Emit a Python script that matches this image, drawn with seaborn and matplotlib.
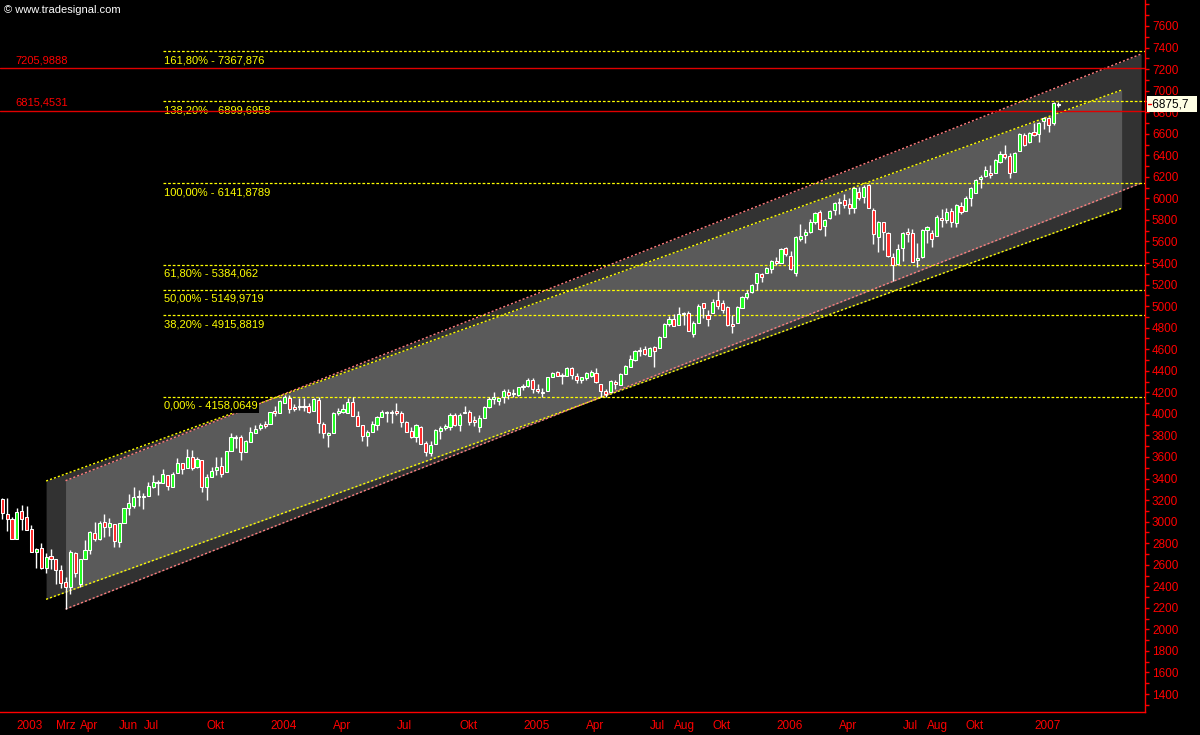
import numpy as np
import matplotlib
matplotlib.use("Agg")
import matplotlib.pyplot as plt
import matplotlib.transforms as mtransforms
import seaborn as sns

# weekly candles Dec 2002 - Feb 2007
opens = [3210, 3071, 3024, 2836, 3099, 3040, 2929, 2715, 2755, 2567,
         2681, 2650, 2551, 2437, 2396, 2710, 2421, 2650, 2737, 2892,
         2836, 2994, 2954, 2976, 2814, 2985, 3124, 3148, 3229, 3232,
         3241, 3325, 3360, 3356, 3432, 3324, 3448, 3541, 3495, 3603,
         3510, 3572, 3318, 3411, 3479, 3516, 3458, 3656, 3778, 3787,
         3645, 3743, 3826, 3867, 3907, 3904, 4025, 4010, 4100, 4146,
         4063, 4063, 4063, 4075, 4025, 4127, 3904, 3805, 3826, 4010,
         4013, 4010, 4109, 3979, 3897, 3795, 3835, 3897, 3969, 4010,
         4010, 4025, 4004, 3923, 3845, 3787, 3882, 3728, 3640, 3718,
         3845, 3866, 3882, 3994, 3897, 4010, 4013, 3941, 3880, 3964,
         4063, 4137, 4118, 4161, 4199, 4180, 4177, 4248, 4260, 4315,
         4230, 4202, 4208, 4341, 4393, 4362, 4353, 4424, 4353, 4315,
         4331, 4347, 4383, 4273, 4217, 4199, 4299, 4268, 4370, 4433,
         4500, 4594, 4603, 4537, 4623, 4609, 4711, 4834, 4878, 4825,
         4927, 4933, 4741, 4846, 5026, 4918, 4933, 5057, 5026, 4989,
         4834, 4846, 4980, 5082, 5134, 5212, 5298, 5310, 5342, 5422,
         5403, 5537, 5465, 5305, 5621, 5661, 5692, 5785, 5877, 5745,
         5815, 5892, 5954, 5985, 5948, 5908, 6062, 6010, 6124, 5892,
         5645, 5778, 5676, 5459, 5391, 5537, 5692, 5682, 5428, 5453,
         5707, 5682, 5652, 5815, 5800, 5886, 5775, 5929, 5886, 6001,
         6047, 6177, 6208, 6233, 6238, 6341, 6412, 6394, 6248, 6443,
         6588, 6526, 6619, 6598, 6721, 6743, 6697, 6870]
highs = [3220, 3219, 3043, 3124, 3154, 3145, 2966, 2758, 2802, 2706,
         2746, 2650, 2597, 2489, 2737, 2715, 2650, 2829, 2913, 2997,
         3006, 3071, 3031, 2976, 2990, 3124, 3256, 3319, 3294, 3269,
         3368, 3430, 3386, 3485, 3432, 3463, 3588, 3541, 3672, 3665,
         3597, 3572, 3442, 3504, 3603, 3597, 3656, 3821, 3804, 3804,
         3760, 3882, 3897, 3913, 3938, 4019, 4072, 4127, 4177, 4177,
         4093, 4146, 4146, 4100, 4146, 4161, 3928, 3835, 4019, 4053,
         4093, 4146, 4156, 4025, 3897, 3851, 3938, 3979, 4037, 4025,
         4037, 4100, 4025, 3932, 3880, 3907, 3888, 3752, 3752, 3858,
         3888, 3907, 4004, 4004, 4004, 4075, 4032, 3985, 3994, 4075,
         4161, 4199, 4152, 4230, 4230, 4230, 4248, 4273, 4331, 4331,
         4273, 4239, 4341, 4393, 4402, 4378, 4433, 4433, 4378, 4341,
         4393, 4409, 4424, 4273, 4230, 4315, 4315, 4377, 4456, 4546,
         4594, 4623, 4633, 4623, 4630, 4723, 4841, 4908, 4927, 4989,
         4948, 4957, 4865, 5020, 5032, 4964, 5063, 5143, 5057, 5001,
         4918, 5001, 5094, 5150, 5205, 5310, 5310, 5366, 5428, 5459,
         5537, 5552, 5515, 5652, 5762, 5714, 5806, 5877, 5892, 5806,
         5892, 5969, 6001, 6041, 6001, 6103, 6109, 6124, 6134, 5908,
         5794, 5785, 5692, 5496, 5577, 5692, 5723, 5714, 5583, 5714,
         5744, 5707, 5846, 5899, 5908, 5908, 5948, 5969, 6022, 6109,
         6177, 6217, 6301, 6310, 6362, 6443, 6496, 6424, 6433, 6604,
         6604, 6619, 6702, 6712, 6758, 6758, 6898, 6898]
lows = [3025, 2913, 2836, 2836, 2922, 2920, 2715, 2567, 2558, 2526,
        2563, 2421, 2387, 2189, 2326, 2484, 2396, 2650, 2697, 2823,
        2829, 2861, 2868, 2768, 2768, 2985, 3062, 3124, 3145, 3114,
        3241, 3309, 3247, 3356, 3293, 3324, 3448, 3442, 3495, 3479,
        3495, 3278, 3201, 3411, 3432, 3416, 3458, 3656, 3681, 3572,
        3645, 3743, 3826, 3851, 3867, 3904, 3985, 4010, 4100, 4010,
        4031, 4037, 4031, 4010, 4025, 3821, 3774, 3690, 3826, 3994,
        4010, 4010, 3985, 3892, 3752, 3706, 3835, 3851, 3969, 3923,
        3913, 3994, 3880, 3835, 3774, 3743, 3721, 3609, 3609, 3718,
        3765, 3851, 3851, 3888, 3845, 4004, 3897, 3888, 3835, 3964,
        4053, 4093, 4084, 4100, 4134, 4161, 4168, 4220, 4248, 4193,
        4193, 4161, 4208, 4341, 4353, 4273, 4353, 4322, 4285, 4285,
        4315, 4341, 4290, 4161, 4161, 4199, 4230, 4268, 4370, 4433,
        4494, 4537, 4546, 4537, 4438, 4609, 4711, 4816, 4818, 4825,
        4825, 4772, 4716, 4846, 4887, 4816, 4933, 4971, 4933, 4816,
        4754, 4846, 4980, 5063, 5119, 5150, 5227, 5310, 5310, 5382,
        5403, 5465, 5336, 5279, 5607, 5590, 5683, 5762, 5708, 5652,
        5806, 5850, 5855, 5908, 5855, 5862, 5985, 5954, 5908, 5577,
        5505, 5521, 5459, 5236, 5382, 5422, 5598, 5412, 5360, 5444,
        5583, 5552, 5652, 5738, 5769, 5738, 5738, 5855, 5886, 5929,
        6047, 6094, 6201, 6186, 6238, 6331, 6362, 6186, 6248, 6443,
        6486, 6517, 6579, 6526, 6642, 6619, 6681, 6851]
closes = [3080, 3024, 2836, 3087, 3027, 2920, 2715, 2746, 2567, 2672,
          2650, 2548, 2428, 2396, 2715, 2521, 2650, 2734, 2901, 2836,
          2985, 2954, 2985, 2821, 2985, 3124, 3170, 3231, 3238, 3236,
          3331, 3365, 3366, 3439, 3330, 3439, 3541, 3485, 3603, 3495,
          3579, 3318, 3416, 3470, 3510, 3442, 3656, 3784, 3784, 3648,
          3750, 3835, 3858, 3897, 3891, 4019, 4010, 4118, 4161, 4044,
          4044, 4069, 4075, 4019, 4134, 3913, 3821, 3826, 4010, 4025,
          4044, 4109, 3985, 3892, 3795, 3835, 3907, 3969, 4019, 4014,
          4019, 4004, 3923, 3835, 3787, 3897, 3721, 3648, 3711, 3851,
          3867, 3885, 3994, 3897, 3994, 4020, 3923, 3923, 3964, 4063,
          4137, 4161, 4146, 4217, 4177, 4192, 4248, 4260, 4315, 4230,
          4208, 4193, 4341, 4383, 4353, 4353, 4424, 4362, 4315, 4341,
          4378, 4393, 4299, 4217, 4186, 4308, 4273, 4370, 4447, 4507,
          4584, 4584, 4556, 4615, 4587, 4716, 4832, 4878, 4818, 4927,
          4936, 4772, 4841, 5001, 4980, 4878, 5041, 5001, 4964, 4825,
          4816, 4989, 5082, 5119, 5196, 5305, 5273, 5351, 5419, 5403,
          5528, 5485, 5342, 5639, 5652, 5692, 5785, 5862, 5714, 5800,
          5883, 5954, 5969, 5939, 5908, 6094, 6001, 6109, 5908, 5670,
          5785, 5692, 5465, 5382, 5528, 5682, 5670, 5412, 5444, 5707,
          5732, 5620, 5825, 5800, 5877, 5785, 5939, 5877, 6001, 6094,
          6171, 6201, 6264, 6217, 6356, 6412, 6387, 6233, 6424, 6595,
          6496, 6604, 6588, 6702, 6743, 6681, 6883, 6875.7]
last_label = "6875,7"

# month ticks (bar index) on the time axis
month_ticks = [0, 3, 7, 11, 16, 20, 24, 29, 33, 38, 42, 46, 51, 55, 59, 64, 68,
               72, 77, 81, 85, 90, 94, 99, 103, 107, 112, 116, 120, 124, 129,
               133, 138, 142, 146, 151, 155, 159, 164, 168, 172, 177, 181, 185,
               190, 194, 198, 203, 207, 212, 216]
month_labels = ["", "2003", "", "Mrz", "Apr", "", "Jun", "Jul", "", "", "Okt",
                "", "", "2004", "", "", "Apr", "", "", "Jul", "", "", "Okt",
                "", "", "2005", "", "", "Apr", "", "", "Jul", "Aug", "", "Okt",
                "", "", "2006", "", "", "Apr", "", "", "Jul", "Aug", "", "Okt",
                "", "", "2007", ""]

# fibonacci extension levels
fib_pcts = ["161,80%", "138,20%", "100,00%", "61,80%", "50,00%", "38,20%", "0,00%"]
fib_values = [7367.876, 6899.6958, 6141.8789, 5384.062, 5149.9719, 4915.8819, 4158.0649]
fib_texts = ["7367,876", "6899,6958", "6141,8789", "5384,062", "5149,9719", "4915,8819", "4158,0649"]
fib_start = 33

# horizontal red levels
red_values = [7205.9888, 6815.4531]
red_texts = ["7205,9888", "6815,4531"]

# two trend channels (start/end bar, upper and lower line)
chan_a_x = [9, 230]
chan_a_top = [3377, 7006]
chan_a_bot = [2279, 5908]
chan_b_x = [13, 234]
chan_b_top = [3380, 7340]
chan_b_bot = [2188, 6142]

sns.set_style("dark", {"axes.facecolor": "black", "figure.facecolor": "black"})
plt.rcParams["font.family"] = ["Liberation Sans", "DejaVu Sans"]

fig = plt.figure(figsize=(12, 7.35), dpi=100, facecolor="black")
ax = fig.add_axes([0, 23 / 735, 1145 / 1200, 712 / 735])
ax.set_facecolor("black")
ax.grid(False)

# channel fills (overlap gets lighter)
ax.fill_between(chan_a_x, chan_a_bot, chan_a_top, color="white", alpha=0.2, lw=0, zorder=1)
ax.fill_between(chan_b_x, chan_b_bot, chan_b_top, color="white", alpha=0.2, lw=0, zorder=1)

yellow = "#ffff00"
pink = "#ff7f7f"
for xs, ys in [(chan_a_x, chan_a_top), (chan_a_x, chan_a_bot)]:
    sns.lineplot(x=xs, y=ys, ax=ax, color=yellow, lw=1, linestyle=(0, (1.5, 1.5)), zorder=2)
for xs, ys in [(chan_b_x, chan_b_top), (chan_b_x, chan_b_bot)]:
    sns.lineplot(x=xs, y=ys, ax=ax, color=pink, lw=1, linestyle=(0, (1.5, 1.5)), zorder=2)

xmax = 234.8
ax.hlines(fib_values, fib_start, xmax, colors=yellow, lw=0.9,
          linestyles=[(0, (2.2, 1.5))], zorder=2)
below = mtransforms.offset_copy(ax.transData, fig=fig, x=1, y=-4, units="dots")
for pct, txt, v in zip(fib_pcts, fib_texts, fib_values):
    ax.text(fib_start, v, f"{pct} - {txt}", transform=below, color=yellow,
            fontsize=8, va="top", ha="left", zorder=3,
            bbox=dict(boxstyle="square,pad=0.15", fc="black", ec="none"))

# red horizontal levels
lvl_trans = mtransforms.blended_transform_factory(ax.transAxes, ax.transData)
above = mtransforms.offset_copy(lvl_trans, fig=fig, y=3, units="dots")
for v, txt in zip(red_values, red_texts):
    ax.axhline(v, color="#e00000", lw=1, zorder=3.5)
    ax.text(15 / 1145, v, txt, transform=above, color="#ff0000", fontsize=8,
            va="bottom", ha="left", zorder=3.5)

# candles
x = np.arange(len(closes))
o = np.array(opens, dtype=float)
c = np.array(closes, dtype=float)
body_lo = np.minimum(o, c)
body_h = np.maximum(np.abs(c - o), 8)
fills = np.where(c >= o, "#22ff22", "#ff2a2a")
ax.vlines(x, lows, highs, color="white", lw=1.0, zorder=4)
ax.bar(x, body_h, bottom=body_lo, width=0.64, color=fills, edgecolor="white",
       linewidth=0.75, zorder=5)

ax.set_xlim(-0.47, xmax)
ax.set_ylim(1233.2, 7841.3)

# axes styling
for side in ["left", "top"]:
    ax.spines[side].set_visible(False)
for side in ["right", "bottom"]:
    ax.spines[side].set_visible(True)
    ax.spines[side].set_color("#ff0000")
    ax.spines[side].set_linewidth(1)

ax.yaxis.tick_right()
ax.set_yticks(np.arange(1400, 7601, 200))
ax.set_yticks(np.arange(1300, 7801, 100), minor=True)
ax.tick_params(axis="y", which="both", direction="out", length=3, width=1,
               color="#ff0000", labelcolor="#ff0000", labelsize=8.5, pad=2)
ax.set_xticks(month_ticks)
ax.set_xticklabels(month_labels, ha="left")
ax.tick_params(axis="x", direction="out", length=3, width=1, color="#ff0000",
               labelcolor="#ff0000", labelsize=8.5, pad=3)
ax.set_xlabel("")
ax.set_ylabel("")

# last value box on the price scale
ax.text(1.0 + 4 / 1145, c[-1], f" {last_label}  ", transform=lvl_trans,
        color="black", fontsize=8.5, va="center", ha="left", zorder=10,
        clip_on=False,
        bbox=dict(boxstyle="square,pad=0.2", fc="#ffffe4", ec="none"))
ax.plot([1.0 + 3 / 1145, 1.0 + 6 / 1145], [c[-1], c[-1]], transform=lvl_trans,
        color="#ff0000", lw=1, zorder=11, clip_on=False)

fig.text(4 / 1200, 1 - 10 / 735, "© www.tradesignal.com", color="white",
         fontsize=8, va="center", ha="left")

fig.savefig("out.png", dpi=100, facecolor="black")
